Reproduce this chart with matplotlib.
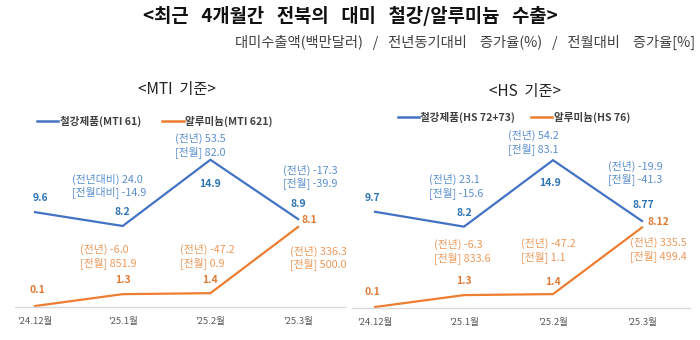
import matplotlib
matplotlib.use('Agg')
import matplotlib.pyplot as plt
from matplotlib.lines import Line2D

plt.rcParams['font.family'] = ['Noto Sans CJK KR', 'DejaVu Sans']

months = ["'24.12월", "'25.1월", "'25.2월", "'25.3월"]

steel_mti = [9.6, 8.2, 14.9, 8.9]
alu_mti = [0.1, 1.3, 1.4, 8.1]
steel_mti_yoy = [None, '24.0', '53.5', '-17.3']
steel_mti_mom = [None, '-14.9', '82.0', '-39.9']
alu_mti_yoy = [None, '-6.0', '-47.2', '336.3']
alu_mti_mom = [None, '851.9', '0.9', '500.0']

steel_hs = [9.7, 8.2, 14.9, 8.77]
alu_hs = [0.1, 1.3, 1.4, 8.12]
steel_hs_yoy = [None, '23.1', '54.2', '-19.9']
steel_hs_mom = [None, '-15.6', '83.1', '-41.3']
alu_hs_yoy = [None, '-6.3', '-47.2', '335.5']
alu_hs_mom = [None, '833.6', '1.1', '499.4']

BLUE = '#4472C4'
ORANGE = '#ED7D31'
BLUE_LBL = '#2E75B6'
ORANGE_LBL = '#E07B35'
BLUE_NOTE = '#5B8FD0'
ORANGE_NOTE = '#EE9A5C'

W, H = 700, 340
fig = plt.figure(figsize=(7, 3.4), dpi=100)


def make_axes(x0, x1, y_top, y_bot, first_px, step_px):
    ax = fig.add_axes([x0 / W, 1 - y_bot / H, (x1 - x0) / W, (y_bot - y_top) / H])
    ax.set_xlim(-(first_px - x0) / step_px, (x1 - first_px) / step_px)
    ax.set_ylim(0, 25)
    for s in ['top', 'right', 'left']:
        ax.spines[s].set_visible(False)
    ax.spines['bottom'].set_color('#D9D9D9')
    ax.spines['bottom'].set_linewidth(1.0)
    ax.set_yticks([])
    ax.set_xticks(range(len(months)))
    ax.set_xticklabels(months, fontsize=6.8, color='#595959')
    ax.tick_params(axis='x', length=0, pad=7)
    ax.patch.set_alpha(0)
    return ax


def put(ax, x, y, txt, dx, dy, color, ha='center', bold=False, size=7.5):
    ax.annotate(txt, (x, y), xytext=(dx, dy), textcoords='offset pixels',
                ha=ha, va='center', color=color, fontsize=size,
                fontweight='bold' if bold else 'normal', linespacing=1.2)


def draw_panel(ax, steel, alu, s_yoy, s_mom, a_yoy, a_mom,
               val_off_s, val_off_a, note_off_s, note_off_a, first_prefix):
    x = range(len(months))
    ax.plot(x, steel, color=BLUE, lw=1.6, solid_joinstyle='miter')
    ax.plot(x, alu, color=ORANGE, lw=1.6, solid_joinstyle='miter')
    for i, v in enumerate(steel):
        dx, dy, ha = val_off_s[i]
        put(ax, i, v, str(v), dx, dy, BLUE_LBL, ha=ha, bold=True)
    for i, v in enumerate(alu):
        dx, dy, ha = val_off_a[i]
        put(ax, i, v, str(v), dx, dy, ORANGE_LBL, ha=ha, bold=True)
    for i in range(1, len(months)):
        p1, p2 = ('(전년)', '[전월]')
        if i == 1 and first_prefix:
            p1, p2 = ('(전년대비)', '[전월대비]')
        dx, dy = note_off_s[i]
        put(ax, i, steel[i], f'{p1} {s_yoy[i]}\n{p2} {s_mom[i]}', dx, dy,
            BLUE_NOTE, ha='left', size=7.8)
        dx, dy = note_off_a[i]
        put(ax, i, alu[i], f'(전년) {a_yoy[i]}\n[전월] {a_mom[i]}', dx, dy,
            ORANGE_NOTE, ha='left', size=7.8)


# left panel (MTI)
ax1 = make_axes(15, 345, 60, 307, 35, 87.7)
draw_panel(ax1, steel_mti, alu_mti, steel_mti_yoy, steel_mti_mom,
           alu_mti_yoy, alu_mti_mom,
           val_off_s=[(5, 14, 'center'), (0, 14, 'center'), (0, -24, 'center'), (0, 15, 'center')],
           val_off_a=[(2, 16, 'center'), (0, 14, 'center'), (0, 13, 'center'), (3, 7, 'left')],
           note_off_s=[None, (-51, 40), (-35, 14), (-15, 42)],
           note_off_a=[None, (-43, 38), (-30, 37), (-8, -31)],
           first_prefix=True)

# right panel (HS)
ax2 = make_axes(352, 690, 60, 308, 375, 89)
draw_panel(ax2, steel_hs, alu_hs, steel_hs_yoy, steel_hs_mom,
           alu_hs_yoy, alu_hs_mom,
           val_off_s=[(-3, 14, 'center'), (0, 14, 'center'), (-3, -23, 'center'), (1, 16, 'center')],
           val_off_a=[(-3, 15, 'center'), (0, 14, 'center'), (0, 12, 'center'), (5, 5, 'left')],
           note_off_s=[None, (-35, 40), (-45, 18), (-34, 48)],
           note_off_a=[None, (-30, 44), (-32, 44), (-12, -22)],
           first_prefix=False)

# titles
fig.text(350 / W, 1 - 16 / H, '<최근   4개월간   전북의   대미   철강/알루미늄   수출>',
         ha='center', va='center', fontsize=13.5, fontweight='bold', color='#111111')
fig.text(695 / W, 1 - 42 / H, '대미수출액(백만달러)   /   전년동기대비    증가율(%)   /   전월대비    증가율[%]',
         ha='right', va='center', fontsize=10.3, color='#404040')
fig.text(177 / W, 1 - 90 / H, '<MTI  기준>', ha='center', va='center',
         fontsize=11, color='#222222')
fig.text(525 / W, 1 - 92 / H, '<HS  기준>', ha='center', va='center',
         fontsize=11, color='#222222')

# legends
def legend(cx, cy, labels, gap):
    handles = [Line2D([0], [0], color=BLUE, lw=1.8),
               Line2D([0], [0], color=ORANGE, lw=1.8)]
    lg = fig.legend(handles, labels, loc='center', bbox_to_anchor=(cx / W, 1 - cy / H),
                    ncol=2, frameon=False, handlelength=2.0, handletextpad=0.15,
                    columnspacing=gap, prop={'size': 7.6, 'weight': 'bold'})
    for t in lg.get_texts():
        t.set_color('#404040')


legend(155, 121, ['철강제품(MTI 61)', '알루미늄(MTI 621)'], 2.0)
legend(514, 117, ['철강제품(HS 72+73)', '알루미늄(HS 76)'], 1.5)

fig.savefig('out.png', dpi=100)
